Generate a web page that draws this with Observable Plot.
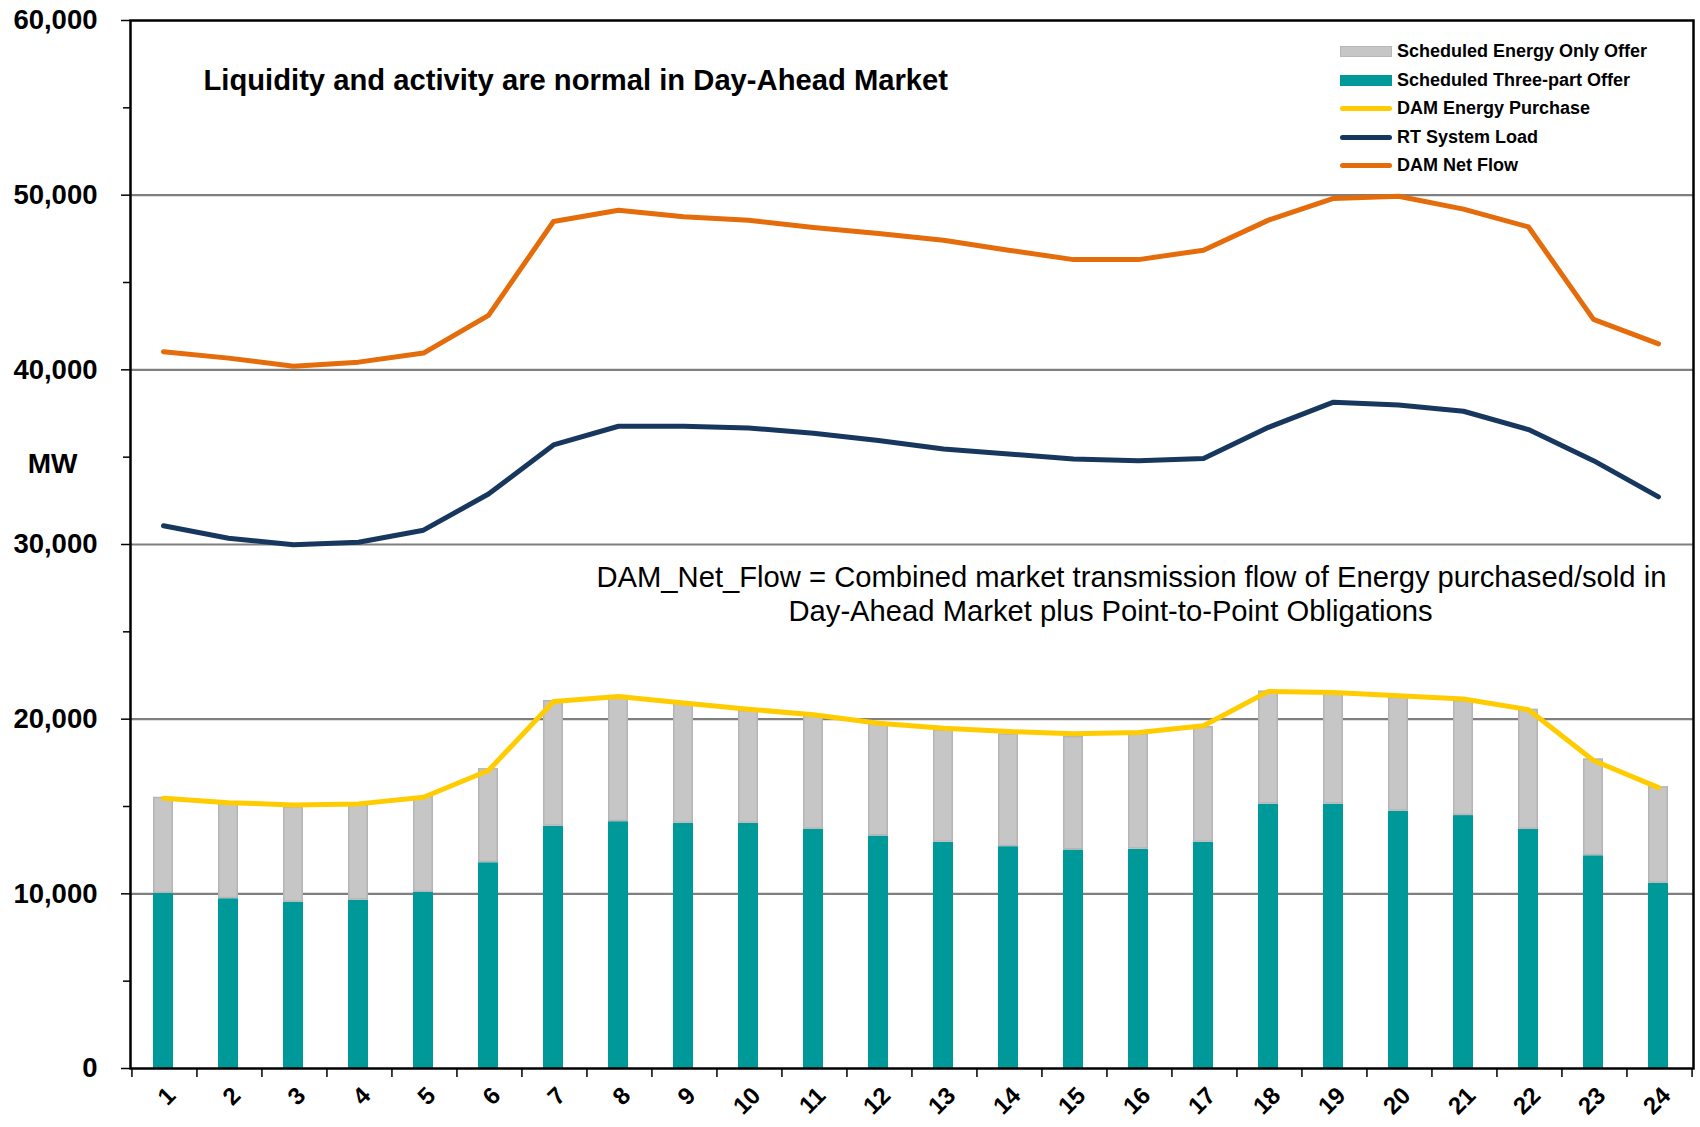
<!DOCTYPE html>
<html><head><meta charset="utf-8">
<script src="https://cdn.jsdelivr.net/npm/d3@7"></script>
<script src="https://cdn.jsdelivr.net/npm/@observablehq/plot@0.6"></script>
<style>
body{margin:0;background:#fff;}
#wrap{position:relative;width:1700px;height:1127px;font-family:"Liberation Sans",Arial,sans-serif;}
#legend{position:absolute;left:1340px;top:37.5px;}
.li{display:flex;align-items:center;height:28.5px;font-weight:bold;font-size:18px;color:#000;white-space:nowrap;}
.sw{width:52px;margin-right:5px;box-sizing:border-box;}
</style></head><body><div id="wrap"></div>
<script>
// ---- data ----
const hours = [1,2,3,4,5,6,7,8,9,10,11,12,13,14,15,16,17,18,19,20,21,22,23,24];
const threePart = [10020,9720,9510,9640,10080,11780,13870,14130,14040,14040,13690,13310,12950,12700,12510,12550,12950,15130,15130,14730,14480,13690,12180,10600];
const energyOnly = [5510,5460,5480,5490,5490,5390,7200,7130,6890,6460,6510,6410,6440,6460,6500,6610,6630,6490,6360,6530,6590,6880,5550,5540];
const damPurchase = [15470,15220,15090,15150,15530,17060,21010,21300,20920,20570,20250,19770,19480,19290,19160,19240,19620,21590,21530,21340,21150,20540,17630,16080];
const rtLoad = [31070,30360,29980,30130,30820,32890,35700,36770,36770,36670,36370,35950,35470,35180,34900,34800,34930,36710,38150,37990,37630,36580,34800,32730];
const damNetFlow = [41030,40670,40210,40440,40960,43120,48490,49140,48760,48570,48150,47800,47420,46850,46310,46310,46850,48570,49810,49940,49200,48180,42890,41490];
const yTicks = [0,10000,20000,30000,40000,50000,60000];
const yMinorTicks = [5000,15000,25000,35000,45000,55000];
const titleText = "Liquidity and activity are normal in Day-Ahead Market";
const noteLines = ["DAM_Net_Flow = Combined market transmission flow of Energy purchased/sold in","Day-Ahead Market plus Point-to-Point Obligations"];
const yLabel = "MW";
const legendItems = [
  {name:"Scheduled Energy Only Offer", kind:"bar", color:"#C6C6C6", border:"#B8B8B8"},
  {name:"Scheduled Three-part Offer", kind:"bar", color:"#009999", border:"#009999"},
  {name:"DAM Energy Purchase", kind:"line", color:"#FFCC00"},
  {name:"RT System Load", kind:"line", color:"#17375E"},
  {name:"DAM Net Flow", kind:"line", color:"#E46C0A"}
];

// ---- layout ----
const W = 1700, H = 1127, mL = 130, mR = 7, mT = 20, mB = 59;
const step = (W - mL - mR) / hours.length;
const FONT = '"Liberation Sans", Arial, sans-serif';
const col = Object.fromEntries(legendItems.map(d => [d.name, d.color]));

const chart = Plot.plot({
  width: W, height: H,
  marginLeft: mL, marginRight: mR, marginTop: mT, marginBottom: mB,
  style: {fontFamily: FONT, background: "#fff", color: "#000", overflow: "visible"},
  x: {type: "band", domain: hours, paddingInner: 0.7, paddingOuter: 0.35, axis: null},
  y: {domain: [0, 60000], axis: null},
  marks: [
    Plot.gridY(yTicks.filter(v => v > 0 && v < 60000), {stroke: "#7F7F7F", strokeOpacity: 1, strokeWidth: 2.2}),
    Plot.barY(hours, {x: d => d, y1: 0, y2: (d, i) => threePart[i], fill: col["Scheduled Three-part Offer"], dx: -1}),
    Plot.barY(hours, {x: d => d, y1: (d, i) => threePart[i], y2: (d, i) => threePart[i] + energyOnly[i],
      fill: col["Scheduled Energy Only Offer"], stroke: "#B5B5B5", strokeWidth: 1.5, inset: 0.75, dx: -1}),
    Plot.lineY(hours, {x: d => d, y: (d, i) => damPurchase[i], stroke: col["DAM Energy Purchase"], strokeWidth: 5, strokeLinecap: "round", dx: -1}),
    Plot.lineY(hours, {x: d => d, y: (d, i) => rtLoad[i], stroke: col["RT System Load"], strokeWidth: 5, strokeLinecap: "round", dx: -1}),
    Plot.lineY(hours, {x: d => d, y: (d, i) => damNetFlow[i], stroke: col["DAM Net Flow"], strokeWidth: 5, strokeLinecap: "round", dx: -1}),
    Plot.frame({stroke: "#000", strokeWidth: 2.5}),
    Plot.axisY({ticks: yTicks, tickFormat: d3.format(","), tickSize: 9, tickPadding: 24, fontSize: 27.5, fontWeight: "bold", stroke: "#000", strokeWidth: 1.5}),
    Plot.axisY({ticks: yMinorTicks, tickFormat: () => "", tickSize: 7, stroke: "#000", strokeWidth: 1.5}),
    Plot.axisX({ticks: hours, tickSize: 9, tickFormat: () => "", dx: -step / 2, stroke: "#000", strokeWidth: 1.5}),
    Plot.axisX({ticks: [hours[hours.length - 1]], tickSize: 9, tickFormat: () => "", dx: step / 2, stroke: "#000", strokeWidth: 1.5}),
    Plot.axisX({ticks: hours, tickSize: 0, tickPadding: 23, tickRotate: -45, textAnchor: "end", lineAnchor: "middle", fontSize: 24, fontWeight: "bold", dx: 7}),
    Plot.text([titleText], {frameAnchor: "top-left", dx: 73, dy: 60, textAnchor: "start", lineAnchor: "middle", fontSize: 29.2, fontWeight: "bold", fill: "#000"}),
    Plot.text([noteLines[0]], {frameAnchor: "top-left", dx: 466, dy: 557, textAnchor: "start", lineAnchor: "middle", fontSize: 29.2, fill: "#000"}),
    Plot.text([noteLines[1]], {frameAnchor: "top-left", dx: 658, dy: 591, textAnchor: "start", lineAnchor: "middle", fontSize: 29.2, fill: "#000"}),
    Plot.text([yLabel], {frameAnchor: "top-left", dx: -78, dy: 444, textAnchor: "middle", lineAnchor: "middle", fontSize: 28, fontWeight: "bold", fill: "#000"})
  ]
});

const wrap = document.getElementById("wrap");
wrap.appendChild(chart);
const leg = document.createElement("div");
leg.id = "legend";
for (const it of legendItems) {
  const row = document.createElement("div");
  row.className = "li";
  const sw = document.createElement("div");
  sw.className = "sw";
  if (it.kind === "bar") {
    sw.style.height = "11px";
    sw.style.background = it.color;
    sw.style.border = "1px solid " + it.border;
  } else {
    sw.style.height = "5px";
    sw.style.background = it.color;
    sw.style.borderRadius = "3px";
  }
  row.appendChild(sw);
  const t = document.createElement("span");
  t.textContent = it.name;
  row.appendChild(t);
  leg.appendChild(row);
}
wrap.appendChild(leg);
</script>
</body></html>
